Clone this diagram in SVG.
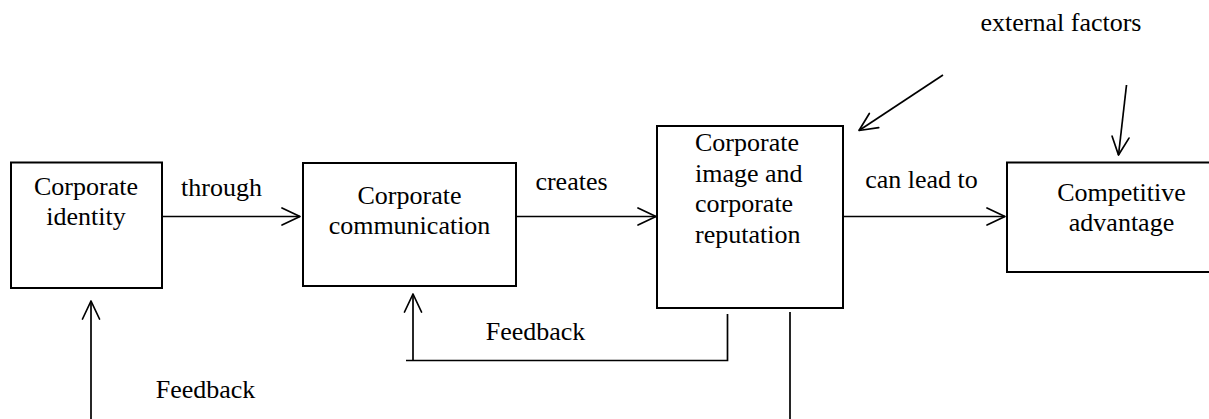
<svg xmlns="http://www.w3.org/2000/svg" width="1209" height="419" viewBox="0 0 1209 419">
  <style>
    .box { fill: #ffffff; stroke: #000000; stroke-width: 2; }
    .lbl { font-family: "Liberation Serif", "Times New Roman", serif; font-size: 26px; fill: #000000; }
    .mid { text-anchor: middle; }
    .wire { fill: none; stroke: #000000; stroke-width: 1.7; }
    .arrow { marker-end: url(#head); }
  </style>
  <defs>
    <marker id="head" markerUnits="userSpaceOnUse" viewBox="-20 -11 23 22" markerWidth="23" markerHeight="22" refX="0" refY="0" orient="auto" overflow="visible">
      <path d="M-18,-8.5 L0,0 L-18,8.5" fill="none" stroke="#000000" stroke-width="1.7" stroke-linejoin="round" stroke-linecap="round"/>
    </marker>
  </defs>
  <rect width="1209" height="419" fill="#ffffff"/>

  <g id="connectors">
    <!-- main flow -->
    <line class="wire arrow" x1="162" y1="216.5" x2="300" y2="216.5"/>
    <line class="wire arrow" x1="516" y1="216.5" x2="656" y2="216.5"/>
    <line class="wire arrow" x1="843" y1="216.5" x2="1005" y2="216.5"/>
    <!-- external influences -->
    <line class="wire arrow" x1="943" y1="75" x2="859" y2="130.5"/>
    <line class="wire arrow" x1="1126.5" y1="85" x2="1118.5" y2="155"/>
    <!-- feedback loop to communication -->
    <polyline class="wire" points="727.5,314 727.5,360.5 406,360.5"/>
    <line class="wire arrow" x1="413" y1="360.5" x2="413" y2="294"/>
    <!-- feedback to identity -->
    <line class="wire" x1="790" y1="312" x2="790" y2="419"/>
    <line class="wire arrow" x1="91" y1="419" x2="91" y2="301"/>
  </g>

  <g id="identity">
    <rect class="box" x="11" y="162.5" width="151" height="125.5"/>
    <text class="lbl mid" x="86" y="195">Corporate</text>
    <text class="lbl mid" x="86" y="225">identity</text>
  </g>

  <g id="communication">
    <rect class="box" x="303" y="163" width="213" height="123"/>
    <text class="lbl mid" x="409.5" y="204">Corporate</text>
    <text class="lbl mid" x="409.5" y="234">communication</text>
  </g>

  <g id="image-reputation">
    <rect class="box" x="657" y="126" width="186" height="182"/>
    <text class="lbl" x="695" y="151">Corporate</text>
    <text class="lbl" x="695" y="181.5">image and</text>
    <text class="lbl" x="695" y="212">corporate</text>
    <text class="lbl" x="695" y="242.5">reputation</text>
  </g>

  <g id="advantage">
    <rect class="box" x="1007" y="162.5" width="210" height="109.5"/>
    <text class="lbl mid" x="1121.5" y="201">Competitive</text>
    <text class="lbl mid" x="1121.5" y="230.5">advantage</text>
  </g>

  <g id="labels">
    <text class="lbl mid" x="221.5" y="196">through</text>
    <text class="lbl mid" x="571.5" y="190">creates</text>
    <text class="lbl mid" x="921.5" y="188">can lead to</text>
    <text class="lbl mid" x="1061" y="31">external factors</text>
    <text class="lbl mid" x="535.5" y="340">Feedback</text>
    <text class="lbl mid" x="205.5" y="398">Feedback</text>
  </g>
</svg>
